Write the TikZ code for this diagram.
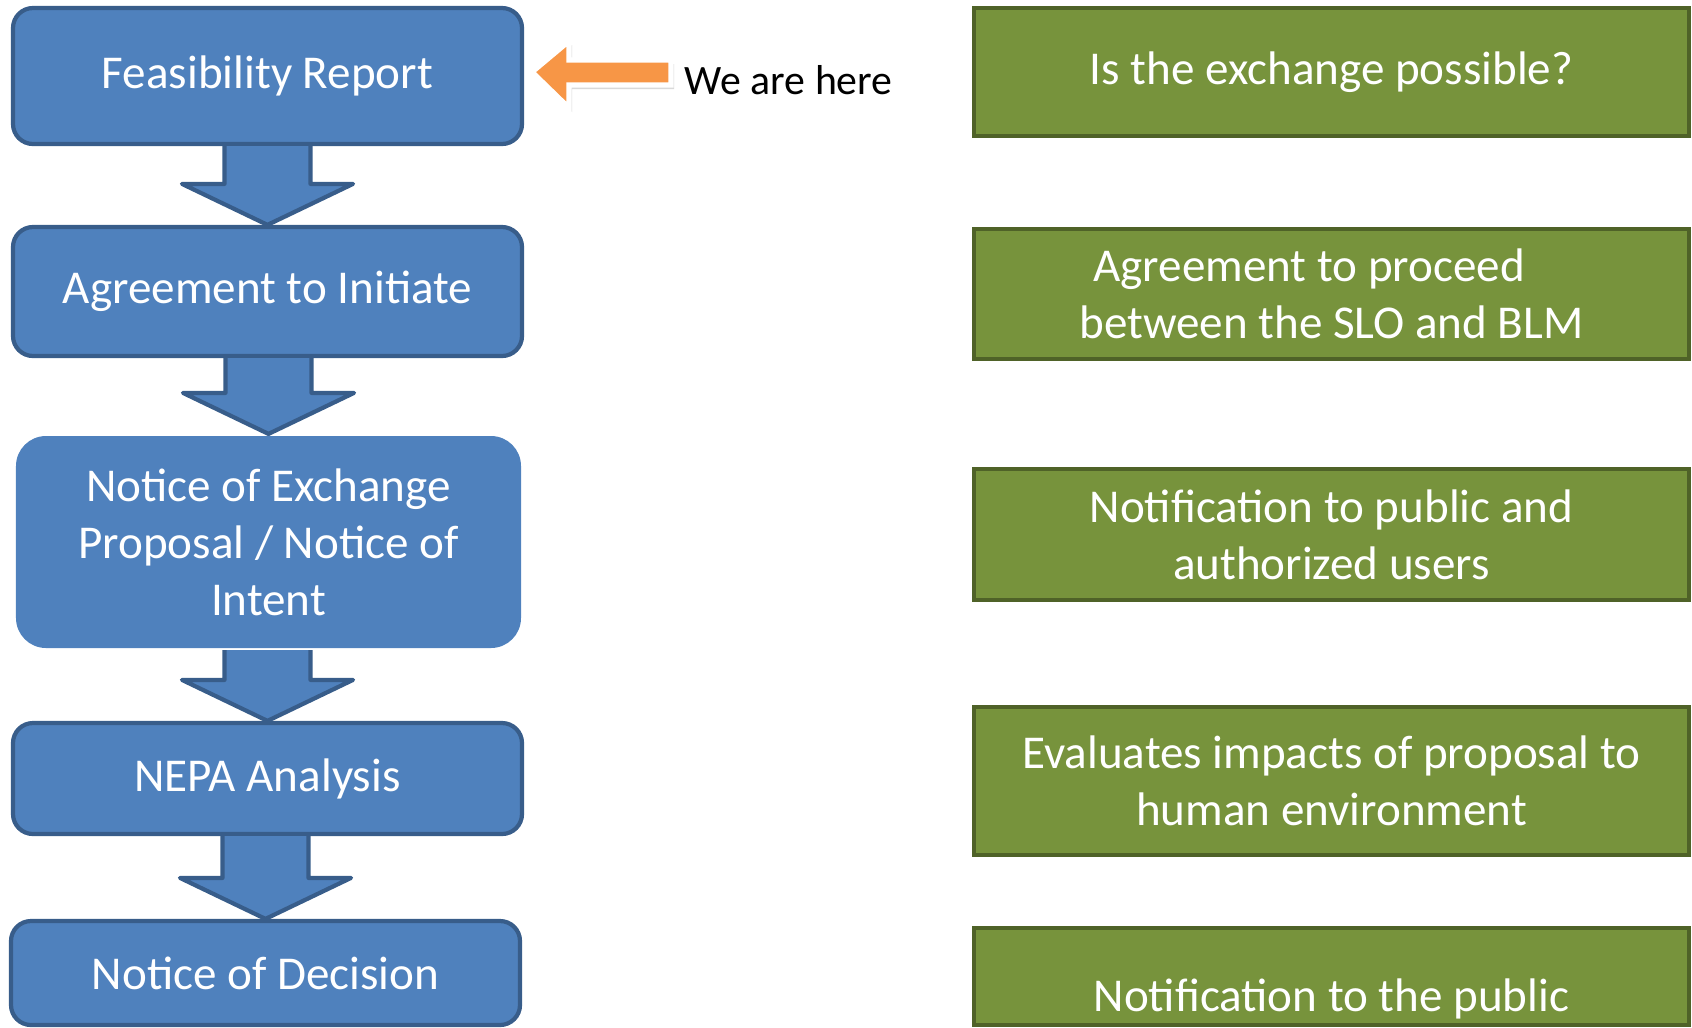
\documentclass[tikz,border=0pt]{standalone}
\usepackage{fontspec}
\setmainfont{Carlito}
\usetikzlibrary{calc,shadows}
\definecolor{stepblue}{HTML}{4F81BD}
\definecolor{stepblueline}{HTML}{385D8A}
\definecolor{notegreen}{HTML}{77933C}
\definecolor{notegreenline}{HTML}{4F6228}
\definecolor{hereorange}{HTML}{F79646}
\begin{document}
\begin{tikzpicture}[
        stepbox/.style={rectangle,rounded corners=0.2cm,fill=stepblue,draw=stepblueline,line width=1.2pt,
            text=white,align=center,minimum width=5.09cm,inner sep=0pt,font=\fontsize{13.4}{16.2}\selectfont},
        notebox/.style={rectangle,fill=notegreen,draw=notegreenline,line width=1.4pt,
            text=white,align=center,minimum width=7.15cm,inner sep=0pt,font=\fontsize{13.4}{16.2}\selectfont},
        flowarrow/.style={fill=stepblue,draw=stepblueline,line width=1.2pt,line join=round}]
    \useasboundingbox (0,0) rectangle (16.92,-10.27);

    % steps on the left
    \node[stepbox,minimum height=1.36cm] (feas) at (2.675,-0.76) {Feasibility Report};
    \node[stepbox,minimum height=1.29cm] (agree) at (2.675,-2.915) {Agreement to Initiate};
    \node[stepbox,draw=none,rounded corners=0.3cm,minimum width=5.05cm,minimum height=2.12cm] (notice) at (2.685,-5.42) {Notice of Exchange\\Proposal / Notice of\\Intent};
    \node[stepbox,minimum height=1.11cm] (nepa) at (2.675,-7.785) {NEPA Analysis};
    \node[stepbox,minimum height=1.04cm] (decision) at (2.655,-9.73) {Notice of Decision};

    % block arrows between the steps
    \foreach \a/\b in {feas/agree,agree/notice,notice/nepa,nepa/decision}
        \filldraw[flowarrow] ($(\b.north |- \a.south)+(-0.43,0)$) -- ($(\b.north)+(-0.43,0.41)$)
            -- ($(\b.north)+(-0.855,0.41)$) -- (\b.north) -- ($(\b.north)+(0.855,0.41)$)
            -- ($(\b.north)+(0.43,0.41)$) -- ($(\b.north |- \a.south)+(0.43,0)$);

    % notes on the right
    \node[notebox,minimum height=1.28cm] (isposs) at (13.315,-0.72) {Is the exchange possible?};
    \node[notebox,minimum height=1.30cm] (proceed) at (13.315,-2.94) {Agreement to proceed\hspace*{0.45cm}\\between the SLO and BLM};
    \node[notebox,minimum height=1.31cm] (notify) at (13.315,-5.345) {Notification to public and\\authorized users};
    \node[notebox,minimum height=1.48cm] (impacts) at (13.315,-7.81) {Evaluates impacts of proposal to\\human environment};
    \node[notebox,minimum height=0.97cm] (public) at (13.315,-9.765) {};
    \node[text=white,font=\fontsize{13.4}{16.2}\selectfont] (publictext) at (13.315,-9.99) {Notification to the public};

    % we are here
    \node[anchor=west,inner sep=0pt,font=\fontsize{11.9}{14}\selectfont] (here) at (6.84,-0.80) {We are here};
    \filldraw[fill=hereorange,draw=white,line width=1.5pt,line join=miter,
        drop shadow={opacity=0.3,shadow xshift=0.03cm,shadow yshift=-0.04cm}]
        ($(here.west)+(-0.13,0.20)$) -- ($(here.west)+(-1.15,0.20)$) -- ($(here.west)+(-1.15,0.39)$)
        -- ($(here.west)+(-1.52,0.08)$) -- ($(here.west)+(-1.15,-0.28)$) -- ($(here.west)+(-1.15,-0.05)$)
        -- ($(here.west)+(-0.13,-0.05)$) -- cycle;
\end{tikzpicture}
\end{document}
